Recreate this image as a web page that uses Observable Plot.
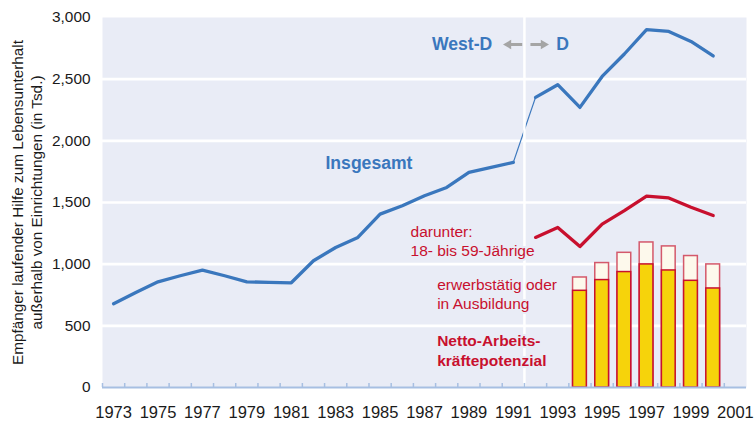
<!DOCTYPE html>
<html><head><meta charset="utf-8">
<script src="https://cdn.jsdelivr.net/npm/d3@7"></script>
<script src="https://cdn.jsdelivr.net/npm/@observablehq/plot@0.6"></script>
<style>body{margin:0;background:#fff}</style>
</head><body><div id="chart"></div>
<script>
// Data (in thousands)
const yearsWest = [1973,1974,1975,1976,1977,1978,1979,1980,1981,1982,1983,1984,1985,1986,1987,1988,1989,1990,1991];
const totalWest = [679,771,857,906,952,906,857,852,849,1028,1135,1217,1406,1474,1555,1622,1744,1784,1825];
const yearsD = [1992,1993,1994,1995,1996,1997,1998,1999,2000];
const totalD = [2352,2455,2271,2522,2704,2901,2887,2806,2688];
const age18to59 = [1217,1298,1143,1325,1434,1551,1537,1461,1394];
const barYears = [1994,1995,1996,1997,1998,1999,2000];
const barEmployedOrTraining = [892,1009,1092,1176,1144,1066,998];
const barNetLabourPotential = [784,871,936,998,949,865,803];
const xTickLabels = [1973,1975,1977,1979,1981,1983,1985,1987,1989,1991,1993,1995,1997,1999,2001];
const xTickMarks = [1972.5,1973.5,1974.5,1975.5,1976.5,1977.5,1978.5,1979.5,1980.5,1981.5,1982.5,1983.5,1984.5,1985.5,1986.5,1987.5,1988.5,1989.5,1990.5,1991.5,1992.5,1993.5,1994.5,1995.5,1996.5,1997.5,1998.5,1999.5,2000.5];
const yTicks = [0,500,1000,1500,2000,2500,3000];
const yGrid = [500,1000,1500,2000,2500];
const reunification = [1991.5];

const BG = "#e9ecf6", BLUE = "#3a77bd", RED = "#c8102e", YELLOW = "#f6d30b",
      CREAM = "#fdf9ec", AXIS = "#a7bfe2", GRAY = "#a5a5a5";

const totalSeries = [
  ...yearsWest.map((year, i) => ({year, value: totalWest[i], period: "West"})),
  ...yearsD.map((year, i) => ({year, value: totalD[i], period: "D"}))
];
const ageSeries = yearsD.map((year, i) => ({year, value: age18to59[i]}));
const bars = barYears.map((year, i) => ({year, total: barEmployedOrTraining[i], net: barNetLabourPotential[i]}));
const bridge = [{x1: yearsWest[yearsWest.length-1], y1: totalWest[totalWest.length-1], x2: yearsD[0], y2: totalD[0]}];

const labelY = 2781;
const chart = Plot.plot({
  width: 756, height: 423,
  marginLeft: 102, marginRight: 10, marginTop: 17, marginBottom: 36,
  style: {fontFamily: "'Liberation Sans', Arial, sans-serif", background: "#fff", color: "#1a1a1a"},
  x: {domain: [1972.5, 2001.5], label: null},
  y: {domain: [0, 3000], label: null},
  marks: [
    Plot.frame({fill: BG, stroke: "none"}),
    Plot.ruleY(yGrid, {stroke: "white", strokeWidth: 2.7}),
    Plot.link(bridge, {x1: "x1", y1: "y1", x2: "x2", y2: "y2", stroke: BLUE, strokeWidth: 1.2}),
    Plot.ruleX(reunification, {stroke: "white", strokeWidth: 2.5}),
    Plot.line(totalSeries, {x: "year", y: "value", z: "period", stroke: BLUE, strokeWidth: 3.3}),
    Plot.line(ageSeries, {x: "year", y: "value", stroke: RED, strokeWidth: 3.3}),
    Plot.rect(bars, {x1: d => d.year - 0.31, x2: d => d.year + 0.31, y1: 0, y2: "total", fill: CREAM, stroke: "#d4586b", strokeWidth: 1.5}),
    Plot.rect(bars, {x1: d => d.year - 0.31, x2: d => d.year + 0.31, y1: 0, y2: "net", fill: YELLOW, stroke: RED, strokeWidth: 1.5}),
    Plot.ruleY([0], {stroke: AXIS, strokeWidth: 2}),
    Plot.ruleX(xTickMarks, {stroke: AXIS, strokeWidth: 1.5, insetTop: 366}),
    Plot.axisX({ticks: xTickLabels, tickSize: 0, tickPadding: 19, fontSize: 16.5, tickFormat: d => String(d), label: null}),
    Plot.axisY({ticks: yTicks, tickSize: 0, tickPadding: 12, fontSize: 15.4, tickFormat: d3.format(","), label: null}),
    Plot.text(["Empfänger laufender Hilfe zum Lebensunterhalt\naußerhalb von Einrichtungen (in Tsd.)"],
      {text: d => d, frameAnchor: "left", textAnchor: "middle", lineAnchor: "middle", dx: -76, rotate: -90, fontSize: 15.3, lineHeight: 1.24, fill: "#1a1a1a"}),
    // annotations
    Plot.text(["Insgesamt"], {text: d => d, x: 1982.54, y: 1814, textAnchor: "start", fill: BLUE, fontWeight: "bold", fontSize: 17.6}),
    Plot.text(["West-D"], {text: d => d, x: 1990.05, y: labelY, textAnchor: "end", fill: BLUE, fontWeight: "bold", fontSize: 17.6}),
    Plot.text(["D"], {text: d => d, x: 1992.93, y: labelY, textAnchor: "start", fill: BLUE, fontWeight: "bold", fontSize: 17.6}),
    Plot.link([{a: 1990.85, b: 1991.40}, {a: 1991.77, b: 1992.28}], {x1: "a", x2: "b", y1: labelY, y2: labelY, stroke: GRAY, strokeWidth: 3}),
    Plot.dot([{x: 1990.78, r: -90}, {x: 1992.36, r: 90}], {x: "x", y: labelY, rotate: "r", symbol: "triangle", r: 3.5, fill: GRAY, stroke: "none"}),
    Plot.text(["darunter:\n18- bis 59-Jährige"], {text: d => d, x: 1986.37, y: 1195, textAnchor: "start", lineHeight: 1.25, fill: RED, fontSize: 15.5, stroke: BG, strokeWidth: 4}),
    Plot.text(["erwerbstätig oder\nin Ausbildung"], {text: d => d, x: 1987.57, y: 766, textAnchor: "start", lineHeight: 1.25, fill: RED, fontSize: 15.5, stroke: BG, strokeWidth: 4}),
    Plot.text(["Netto-Arbeits-\nkräftepotenzial"], {text: d => d, x: 1987.57, y: 307, textAnchor: "start", lineHeight: 1.25, fill: RED, fontSize: 15.5, fontWeight: "bold", stroke: BG, strokeWidth: 4})
  ]
});
document.getElementById("chart").appendChild(chart);
</script>
</body></html>
